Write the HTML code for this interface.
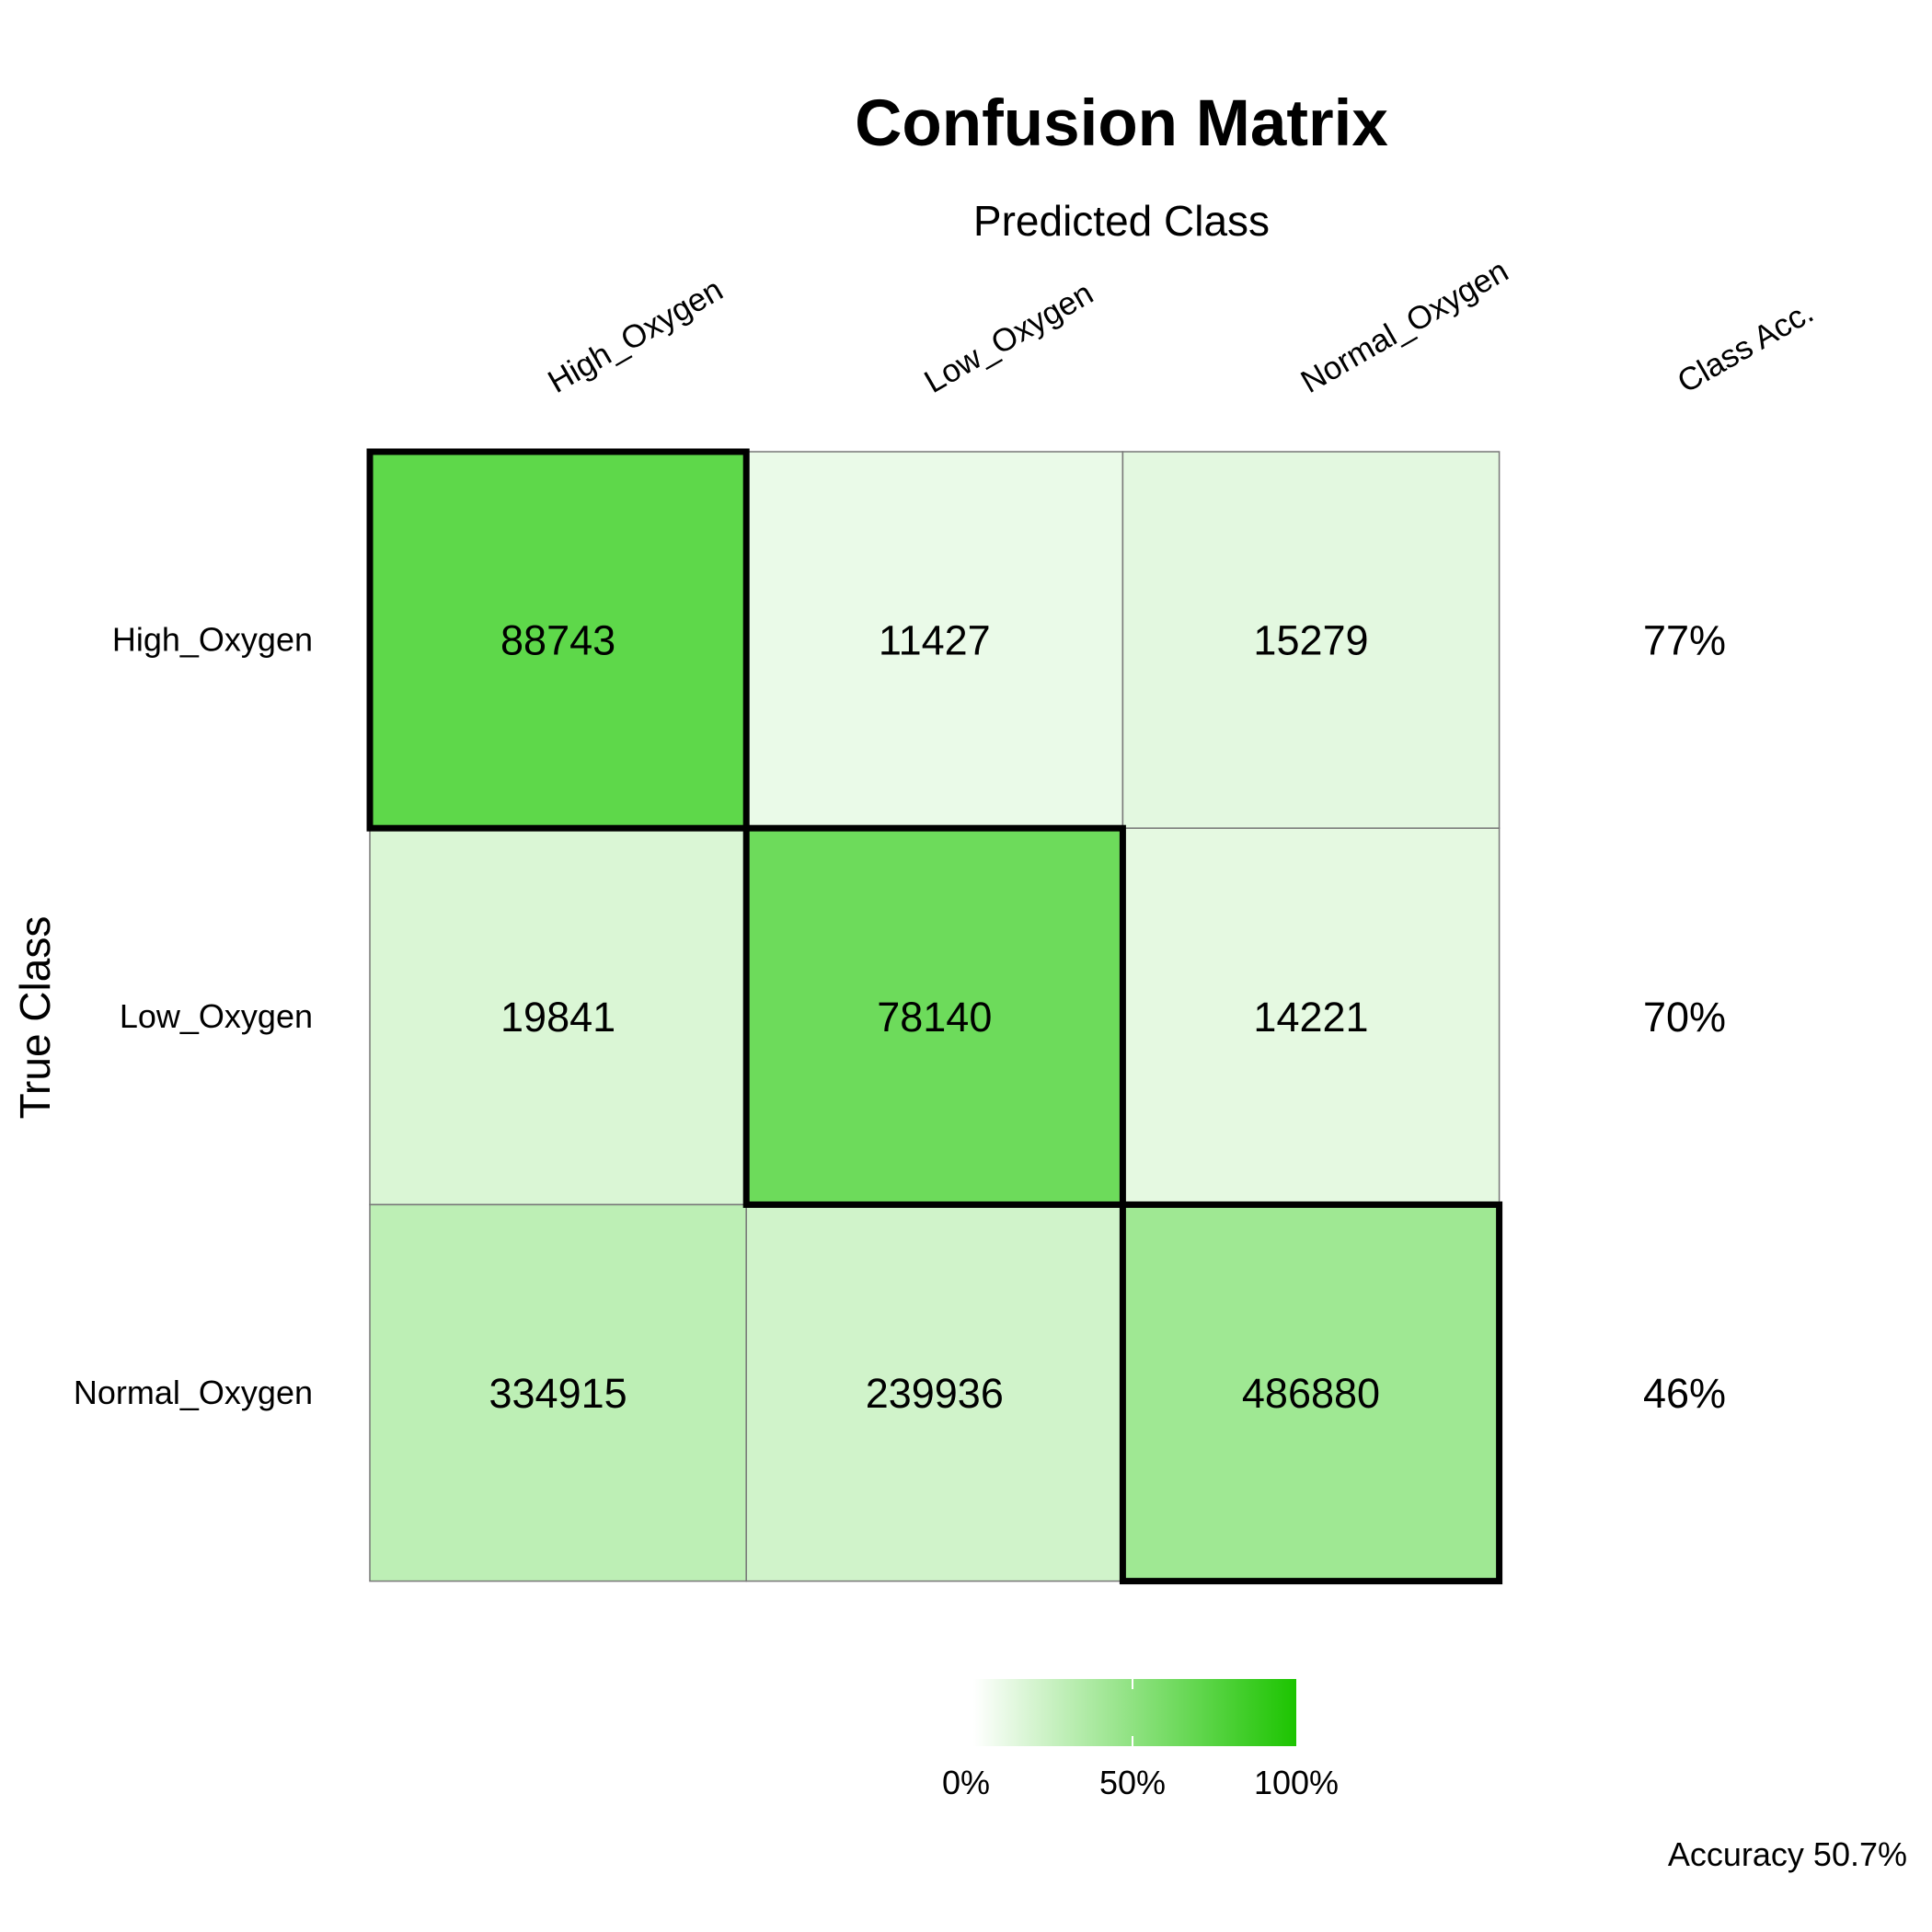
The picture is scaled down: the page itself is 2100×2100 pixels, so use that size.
<!DOCTYPE html>
<html><head><meta charset="utf-8"><style>
html,body{margin:0;padding:0;background:#fff;}
svg{display:block;font-family:"Liberation Sans",Arial,sans-serif;}
</style></head><body>
<svg id="chart" width="2100" height="2100" viewBox="0 0 2100 2100">
<defs><linearGradient id="cbar" x1="0" x2="1" y1="0" y2="0"><stop offset="0" stop-color="#ffffff"/><stop offset="1" stop-color="#1cc400"/></linearGradient></defs>
<text x="1219" y="158" font-size="71" font-weight="bold" text-anchor="middle">Confusion Matrix</text>
<text x="1219" y="256" font-size="46" text-anchor="middle">Predicted Class</text>
<text transform="translate(42,1106) rotate(-90)" font-size="46" text-anchor="middle" dominant-baseline="middle">True Class</text>
<g id="cells"></g>
<g id="labels"></g>
<rect x="1058" y="1825" width="351" height="73" fill="url(#cbar)"/>
<line x1="1231" y1="1825" x2="1231" y2="1836" stroke="#fff" stroke-width="2"/>
<line x1="1231" y1="1887" x2="1231" y2="1898" stroke="#fff" stroke-width="2"/>
<text x="1050" y="1950" font-size="36" text-anchor="middle">0%</text>
<text x="1231" y="1950" font-size="36" text-anchor="middle">50%</text>
<text x="1409" y="1950" font-size="36" text-anchor="middle">100%</text>
<text x="2073" y="2028" font-size="36" text-anchor="end">Accuracy 50.7%</text>
</svg>
<script>
const classes = ["High_Oxygen","Low_Oxygen","Normal_Oxygen"];
const rowHigh = [88743, 11427, 15279];
const rowLow = [19841, 78140, 14221];
const rowNormal = [334915, 239936, 486880];
const matrix = [rowHigh, rowLow, rowNormal];
const NS = "http://www.w3.org/2000/svg";
const x0 = 402, y0 = 491, cs = 409.2;
const cells = document.getElementById('cells');
const labels = document.getElementById('labels');
function colorFor(t){
  const r = Math.round(255 - t*209), g = Math.round(255 - t*51), b = Math.round(255 - t*235);
  return `rgb(${r},${g},${b})`;
}
function mk(tag, attrs, parent){ const e = document.createElementNS(NS, tag); for (const k in attrs) e.setAttribute(k, attrs[k]); parent.appendChild(e); return e; }
matrix.forEach((row, i) => {
  const s = row.reduce((a,b)=>a+b,0);
  row.forEach((v, j) => {
    const r = mk('rect', {x: x0+j*cs, y: y0+i*cs, width: cs, height: cs, fill: colorFor(v/s), stroke: '#777', 'stroke-width': 1.5}, cells);
    
    
    const t = mk('text', {x: x0+j*cs+cs/2, y: y0+i*cs+cs/2+16, 'font-size': 45, 'text-anchor': 'middle'}, cells);
    t.textContent = v;
    
    
  });
  const a = mk('text', {x: 1831, y: y0+i*cs+cs/2+16, 'font-size': 45, 'text-anchor': 'middle'}, labels);
  a.textContent = Math.round(100*row[i]/s) + '%';
  
  
  const rl = mk('text', {x: 340, y: y0+i*cs+cs/2+12, 'font-size': 36, 'text-anchor': 'end'}, labels);
  rl.textContent = classes[i];
  
  
});
matrix.forEach((row, i) => {
  const d = mk('rect', {x: x0+i*cs, y: y0+i*cs, width: cs, height: cs, fill: 'none', stroke: '#000', 'stroke-width': 7}, cells);
  
  
});
classes.concat(["Class Acc."]).forEach((c, j) => {
  const cx = x0 + j*cs + cs/2 - 2, cy = 428;
  const t = mk('text', {x: cx, y: cy, 'font-size': 35, transform: `rotate(-30 ${cx} ${cy})`}, labels);
  t.textContent = c;
  
  
});
</script>
</body></html>
